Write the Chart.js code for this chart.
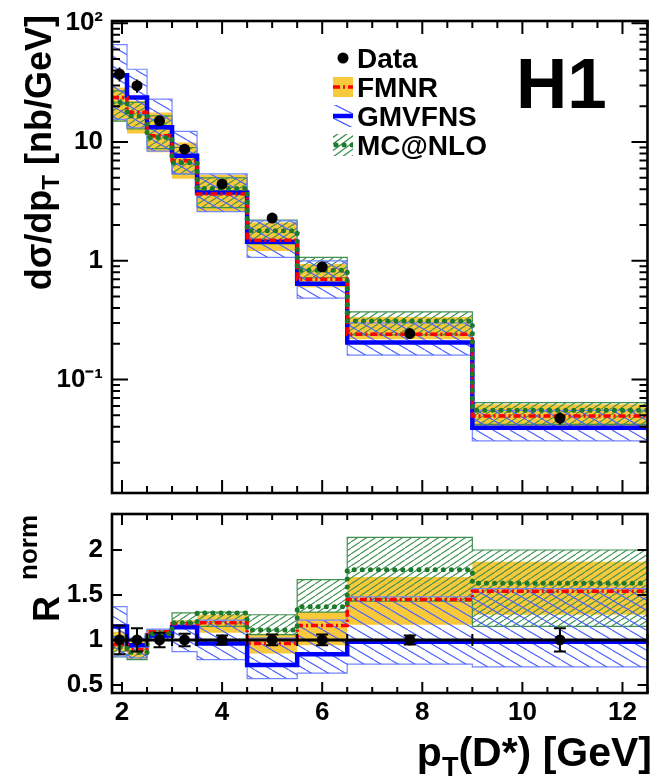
<!DOCTYPE html>
<html><head><meta charset="utf-8">
<script src="https://cdn.jsdelivr.net/npm/chart.js@4.4.1/dist/chart.umd.min.js"></script>
<style>
html,body{margin:0;padding:0;background:#fff;}
#wrap{position:relative;width:653px;height:780px;overflow:hidden;background:#fff;}
#c1{position:absolute;left:0;top:0;}
#c2{position:absolute;left:0;top:500px;}
</style></head><body>
<div id="wrap">
<canvas id="c1" width="653" height="500"></canvas>
<canvas id="c2" width="653" height="280"></canvas>
</div>
<script>
// ---------------- data ----------------
const xEdges = [1.8, 2.1, 2.5, 3.0, 3.5, 4.5, 5.5, 6.5, 9.0, 12.5];
const xData  = [1.95, 2.3, 2.75, 3.25, 4.0, 5.0, 6.0, 7.75, 10.75];

// upper panel: d sigma / d pT [nb/GeV]
const dataXsec    = [37.4, 29.8, 15.1, 8.7, 4.43, 2.29, 0.89, 0.244, 0.0473];
const dataXsecErr = [5.0, 3.8, 1.4, 0.7, 0.3, 0.15, 0.07, 0.02, 0.0055];
const fmnrXsec    = [23.7, 17.8, 11.3, 6.96, 3.65, 1.49, 0.70, 0.241, 0.0494];
const fmnrXsecLo  = [15.1, 11.8, 8.2, 4.9, 2.6, 1.21, 0.60, 0.219, 0.0407];
const fmnrXsecHi  = [28.8, 22.3, 17.7, 9.9, 5.3, 2.1, 0.94, 0.337, 0.062];
const gmvfnsXsec   = [36.5, 23.7, 13.3, 7.67, 3.76, 1.45, 0.64, 0.205, 0.0394];
const gmvfnsXsecLo = [15.5, 13.2, 8.4, 5.4, 2.6, 1.07, 0.485, 0.161, 0.0305];
const gmvfnsXsecHi = [66, 41, 23, 12.3, 5.4, 2.17, 1.0, 0.30, 0.055];
const mcnloXsec   = [21.5, 16.6, 10.9, 6.7, 4.06, 1.79, 0.835, 0.312, 0.0552];
const mcnloXsecLo = [15.0, 12.9, 8.8, 5.4, 2.8, 1.39, 0.72, 0.238, 0.042];
const mcnloXsecHi = [27.0, 21.6, 16.6, 9.0, 5.0, 2.2, 1.07, 0.372, 0.064];

// lower panel: R^norm
const dataR     = [1, 1, 1, 1, 1, 1, 1, 1, 1];
const dataRErr  = [0.16, 0.13, 0.08, 0.07, 0.05, 0.06, 0.06, 0.05, 0.13];
const fmnrR     = [0.95, 0.89, 1.09, 1.18, 1.19, 0.96, 1.16, 1.45, 1.54];
const fmnrRLo   = [0.87, 0.78, 1.03, 1.13, 1.08, 0.85, 0.94, 1.17, 1.28];
const fmnrRHi   = [1.09, 1.00, 1.10, 1.22, 1.28, 1.07, 1.31, 1.70, 1.87];
const gmvfnsR   = [1.15, 0.94, 1.05, 1.14, 0.96, 0.72, 0.84, 0.98, 0.98];
const gmvfnsRLo = [0.82, 0.80, 1.00, 0.87, 0.78, 0.57, 0.63, 0.73, 0.70];
const gmvfnsRHi = [1.37, 1.02, 1.12, 1.17, 1.22, 1.02, 1.22, 1.48, 1.57];
const mcnloR    = [0.92, 0.86, 1.07, 1.19, 1.30, 1.11, 1.37, 1.78, 1.63];
const mcnloRLo  = [0.81, 0.78, 1.03, 1.15, 1.15, 1.06, 1.31, 1.43, 1.15];
const mcnloRHi  = [1.04, 0.93, 1.11, 1.30, 1.31, 1.28, 1.67, 2.14, 2.00];

// ticks
const xTicks = [2, 4, 6, 8, 10, 12];
const xTickLabels = ['2', '4', '6', '8', '10', '12'];
const topYTicks = [0.1, 1, 10, 100];
const topYTickLabels = ['10\u207B\u00B9', '1', '10', '10\u00B2'];
const botYTicks = [0.5, 1, 1.5, 2];
const botYTickLabels = ['0.5', '1', '1.5', '2'];
const legendLabels = ['Data', 'FMNR', 'GMVFNS', 'MC@NLO'];

// ---------------- style ----------------
const FONT = "'Liberation Sans', Arial, Helvetica, sans-serif";
const YELLOW = '#f9c93b';
const BLUE = '#0000ff';
const BLUE_HATCH = '#4a62ff';
const BLUE_EDGE = '#7486ff';
const GREEN = '#1d7a2c';
const GREEN_HATCH = '#3f9150';
const RED = '#ff0000';

function hatchPattern(color, w, h, rising, lw) {
  const c = document.createElement('canvas');
  c.width = w; c.height = h;
  const g = c.getContext('2d');
  g.strokeStyle = color; g.lineWidth = lw;
  g.beginPath();
  for (let k = -1; k <= 1; k++) {
    if (rising) { g.moveTo(k * w, h); g.lineTo(k * w + w, 0); }
    else { g.moveTo(k * w, 0); g.lineTo(k * w + w, h); }
  }
  g.stroke();
  return g.createPattern(c, 'repeat');
}
const bluePat = hatchPattern(BLUE_HATCH, 17, 10, false, 1.1);
const greenPat = hatchPattern(GREEN_HATCH, 9, 6, true, 1.1);

function stepPts(vals) {
  const p = [];
  vals.forEach((v, i) => { p.push({x: xEdges[i], y: v}); p.push({x: xEdges[i + 1], y: v}); });
  return p;
}
function band(hi, lo, fillStyle, edge, order) {
  const bw = edge ? 1.2 : 0, bc = edge || 'rgba(0,0,0,0)';
  return [
    {data: stepPts(hi), borderColor: bc, borderWidth: bw, backgroundColor: fillStyle, fill: '+1', pointRadius: 0, order},
    {data: stepPts(lo), borderColor: bc, borderWidth: bw, fill: false, pointRadius: 0, order}
  ];
}
function central(vals, color, width, dash, cap, order) {
  return {data: stepPts(vals), borderColor: color, borderWidth: width, borderDash: dash,
          borderCapStyle: cap, fill: false, pointRadius: 0, order};
}
function dataSet(ys) {
  return {data: xData.map((x, i) => ({x, y: ys[i]})), showLine: false, pointRadius: 5.5,
          pointBackgroundColor: '#000', pointBorderColor: '#000', pointBorderWidth: 0, order: 0};
}

// frame + inward ticks
function framePlugin(cfg) {
  return {
    id: 'frame',
    afterDraw(chart) {
      const {ctx, chartArea: a, scales: {x, y}} = chart;
      ctx.save();
      ctx.strokeStyle = '#000';
      ctx.lineWidth = 2;
      ctx.beginPath();
      const xt = (v, len) => {
        const p = x.getPixelForValue(v);
        ctx.moveTo(p, a.bottom); ctx.lineTo(p, a.bottom - len);
        ctx.moveTo(p, a.top); ctx.lineTo(p, a.top + len);
      };
      const yt = (v, len) => {
        const p = y.getPixelForValue(v);
        ctx.moveTo(a.left, p); ctx.lineTo(a.left + len, p);
        ctx.moveTo(a.right, p); ctx.lineTo(a.right - len, p);
      };
      xTicks.forEach(v => xt(v, cfg.xMaj));
      for (let v = 2.5; v <= 12.5; v += 0.5) if (xTicks.indexOf(v) < 0) xt(v, cfg.xMin);
      cfg.yMajor.forEach(v => yt(v, cfg.yMaj));
      cfg.yMinor.forEach(v => yt(v, cfg.yMin));
      ctx.stroke();
      ctx.lineWidth = 2.6;
      ctx.strokeRect(a.left, a.top, a.right - a.left, a.bottom - a.top);
      ctx.restore();
    }
  };
}

function errPlugin(ys, errs, opt) {
  return {
    id: 'errs',
    afterDatasetsDraw(chart) {
      const {ctx, scales: {x, y}} = chart;
      ctx.save();
      ctx.strokeStyle = '#000';
      if (opt.hbar) {
        ctx.lineWidth = opt.hlw;
        ctx.beginPath();
        xData.forEach((xv, i) => {
          const py = y.getPixelForValue(ys[i]);
          ctx.moveTo(x.getPixelForValue(xEdges[i]), py);
          ctx.lineTo(x.getPixelForValue(xEdges[i + 1]), py);
        });
        ctx.stroke();
        ctx.lineWidth = 2;
        ctx.beginPath();
        xData.forEach((xv, i) => {
          const py = y.getPixelForValue(ys[i]);
          [xEdges[i], xEdges[i + 1]].forEach(e => {
            const px = x.getPixelForValue(e);
            ctx.moveTo(px, py - opt.tick); ctx.lineTo(px, py + opt.tick);
          });
        });
        ctx.stroke();
      }
      ctx.lineWidth = 2;
      ctx.beginPath();
      xData.forEach((xv, i) => {
        const px = x.getPixelForValue(xv);
        const t = y.getPixelForValue(ys[i] + errs[i]);
        const b = y.getPixelForValue(ys[i] - errs[i]);
        ctx.moveTo(px, t); ctx.lineTo(px, b);
        if (opt.cap) {
          ctx.moveTo(px - opt.cap, t); ctx.lineTo(px + opt.cap, t);
          ctx.moveTo(px - opt.cap, b); ctx.lineTo(px + opt.cap, b);
        }
      });
      ctx.stroke();
      ctx.restore();
    }
  };
}

// text pieces drawn on the canvas (real text)
function drawRich(ctx, parts, x, y, align) {
  let total = 0;
  parts.forEach(p => { ctx.font = 'bold ' + p[1] + 'px ' + FONT; total += ctx.measureText(p[0]).width; });
  let cx = align === 'right' ? x - total : x;
  parts.forEach(p => {
    ctx.font = 'bold ' + p[1] + 'px ' + FONT;
    ctx.fillText(p[0], cx, y + (p[2] || 0));
    cx += ctx.measureText(p[0]).width;
  });
}

const topDecor = {
  id: 'topDecor',
  afterDraw(chart) {
    const ctx = chart.ctx;
    ctx.save();
    ctx.fillStyle = '#000';
    ctx.textBaseline = 'alphabetic';
    ctx.textAlign = 'left';
    // y title
    ctx.save();
    ctx.translate(51, 15);
    ctx.rotate(-Math.PI / 2);
    drawRich(ctx, [['d\u03C3/dp', 36, 0], ['T', 24, 8], [' [nb/GeV]', 36, 0]], 0, 0, 'right');
    ctx.restore();
    // H1 label
    ctx.font = 'bold 71px ' + FONT;
    ctx.fillText('H1', 516, 108);
    // legend
    const lx = 333, lw = 20;
    const rows = [58, 87, 116, 145];
    ctx.font = 'bold 28px ' + FONT;
    legendLabels.forEach((t, i) => ctx.fillText(t, 357, rows[i] + 10));
    ctx.beginPath(); ctx.arc(343, rows[0], 5.5, 0, Math.PI * 2); ctx.fill();
    // FMNR
    ctx.fillStyle = YELLOW; ctx.fillRect(lx, rows[1] - 10, lw, 20);
    ctx.strokeStyle = RED; ctx.lineWidth = 3.5; ctx.setLineDash([7, 3, 2, 3]);
    ctx.beginPath(); ctx.moveTo(lx, rows[1]); ctx.lineTo(lx + lw, rows[1]); ctx.stroke();
    ctx.setLineDash([]);
    // GMVFNS
    ctx.save();
    ctx.beginPath(); ctx.rect(lx, rows[2] - 11, lw, 22); ctx.clip();
    ctx.strokeStyle = BLUE_HATCH; ctx.lineWidth = 1.3;
    ctx.beginPath();
    ctx.moveTo(lx - 2, rows[2] - 13); ctx.lineTo(lx + lw + 2, rows[2] - 1);
    ctx.moveTo(lx - 2, rows[2] + 1); ctx.lineTo(lx + lw + 2, rows[2] + 13);
    ctx.stroke();
    ctx.strokeStyle = BLUE; ctx.lineWidth = 4.5;
    ctx.beginPath(); ctx.moveTo(lx, rows[2]); ctx.lineTo(lx + lw, rows[2]); ctx.stroke();
    ctx.restore();
    // MC@NLO
    ctx.save();
    ctx.beginPath(); ctx.rect(lx, rows[3] - 11, lw, 22); ctx.clip();
    ctx.strokeStyle = GREEN_HATCH; ctx.lineWidth = 1.3;
    ctx.beginPath();
    for (let k = -3; k <= 3; k++) { ctx.moveTo(lx + k * 9, rows[3] + 12); ctx.lineTo(lx + k * 9 + 33, rows[3] - 12); }
    ctx.stroke();
    ctx.strokeStyle = GREEN; ctx.lineWidth = 5; ctx.lineCap = 'round'; ctx.setLineDash([0.1, 8]);
    ctx.beginPath(); ctx.moveTo(lx + 3, rows[3]); ctx.lineTo(lx + lw, rows[3]); ctx.stroke();
    ctx.restore();
    ctx.restore();
  }
};

const botDecor = {
  id: 'botDecor',
  afterDraw(chart) {
    const ctx = chart.ctx;
    ctx.save();
    ctx.fillStyle = '#000';
    ctx.textBaseline = 'alphabetic';
    ctx.save();
    ctx.translate(59, 122);
    ctx.rotate(-Math.PI / 2);
    ctx.font = 'bold 36px ' + FONT;
    ctx.fillText('R', 0, 0);
    ctx.font = 'bold 26px ' + FONT;
    ctx.fillText('norm', 42, -22);
    ctx.restore();
    drawRich(ctx, [['p', 41, 0], ['T', 27, 10], ['(D*) [GeV]', 41, 0]], 652, 266, 'right');
    ctx.restore();
  }
};

// ---------------- top chart ----------------
const logMinor = [];
[0.01, 0.1, 1, 10].forEach(d => { for (let k = 2; k <= 9; k++) logMinor.push(d * k); });

const tickFont = {family: FONT, size: 26, weight: 'bold'};

new Chart(document.getElementById('c1'), {
  type: 'line',
  data: {
    datasets: [
      ...band(fmnrXsecHi, fmnrXsecLo, YELLOW, null, 20),
      ...band(mcnloXsecHi, mcnloXsecLo, greenPat, GREEN_HATCH, 18),
      ...band(gmvfnsXsecHi, gmvfnsXsecLo, bluePat, BLUE_EDGE, 16),
      central(gmvfnsXsec, BLUE, 4.5, [], 'butt', 6),
      central(fmnrXsec, RED, 3.5, [7, 3, 2, 3], 'butt', 5),
      central(mcnloXsec, GREEN, 5, [0.1, 8], 'round', 4),
      dataSet(dataXsec)
    ]
  },
  options: {
    responsive: false, animation: false, devicePixelRatio: 1,
    layout: {padding: {left: 0, right: 1, top: 21, bottom: 7}},
    plugins: {legend: {display: false}, tooltip: {enabled: false}},
    elements: {line: {tension: 0}},
    scales: {
      x: {type: 'linear', min: 1.8, max: 12.5, display: false},
      y: {
        type: 'logarithmic', min: 0.0111, max: 104.5,
        afterBuildTicks: s => { s.ticks = topYTicks.map(v => ({value: v})); },
        afterFit: s => { s.width = 112; s.paddingTop = 0; s.paddingBottom = 0; },
        ticks: {autoSkip: false, font: tickFont, color: '#000', padding: 9,
                callback: (v, i) => topYTickLabels[i]},
        grid: {display: false, drawTicks: false}, border: {display: false}
      }
    }
  },
  plugins: [errPlugin(dataXsec, dataXsecErr, {}), framePlugin({xMaj: 13, xMin: 7, yMaj: 16, yMin: 8,
            yMajor: topYTicks, yMinor: logMinor.filter(v => v > 0.0111 && v < 104.5)}), topDecor]
});

// ---------------- bottom chart ----------------
new Chart(document.getElementById('c2'), {
  type: 'line',
  data: {
    datasets: [
      ...band(fmnrRHi, fmnrRLo, YELLOW, null, 20),
      ...band(mcnloRHi, mcnloRLo, greenPat, GREEN_HATCH, 18),
      ...band(gmvfnsRHi, gmvfnsRLo, bluePat, BLUE_EDGE, 16),
      central(gmvfnsR, BLUE, 4.5, [], 'butt', 6),
      central(fmnrR, RED, 3.5, [7, 3, 2, 3], 'butt', 5),
      central(mcnloR, GREEN, 5, [0.1, 8], 'round', 4),
      dataSet(dataR)
    ]
  },
  options: {
    responsive: false, animation: false, devicePixelRatio: 1,
    layout: {padding: {left: 0, right: 1, top: 14, bottom: 0}},
    plugins: {legend: {display: false}, tooltip: {enabled: false}},
    elements: {line: {tension: 0}},
    scales: {
      x: {
        type: 'linear', min: 1.8, max: 12.5,
        afterBuildTicks: s => { s.ticks = xTicks.map(v => ({value: v})); },
        afterFit: s => { s.height = 87; s.paddingLeft = 0; s.paddingRight = 0; },
        ticks: {autoSkip: false, maxRotation: 0, font: tickFont, color: '#000', padding: 4,
                callback: (v, i) => xTickLabels[i]},
        grid: {display: false, drawTicks: false}, border: {display: false}
      },
      y: {
        type: 'linear', min: 0.41, max: 2.4,
        afterBuildTicks: s => { s.ticks = botYTicks.map(v => ({value: v})); },
        afterFit: s => { s.width = 112; s.paddingTop = 0; s.paddingBottom = 0; },
        ticks: {autoSkip: false, font: tickFont, color: '#000', padding: 9,
                callback: (v, i) => botYTickLabels[i]},
        grid: {display: false, drawTicks: false}, border: {display: false}
      }
    }
  },
  plugins: [errPlugin(dataR, dataRErr, {hbar: true, hlw: 3, tick: 6, cap: 6}),
            framePlugin({xMaj: 11, xMin: 6, yMaj: 10, yMin: 0, yMajor: botYTicks, yMinor: []}), botDecor]
});
</script>
</body></html>
